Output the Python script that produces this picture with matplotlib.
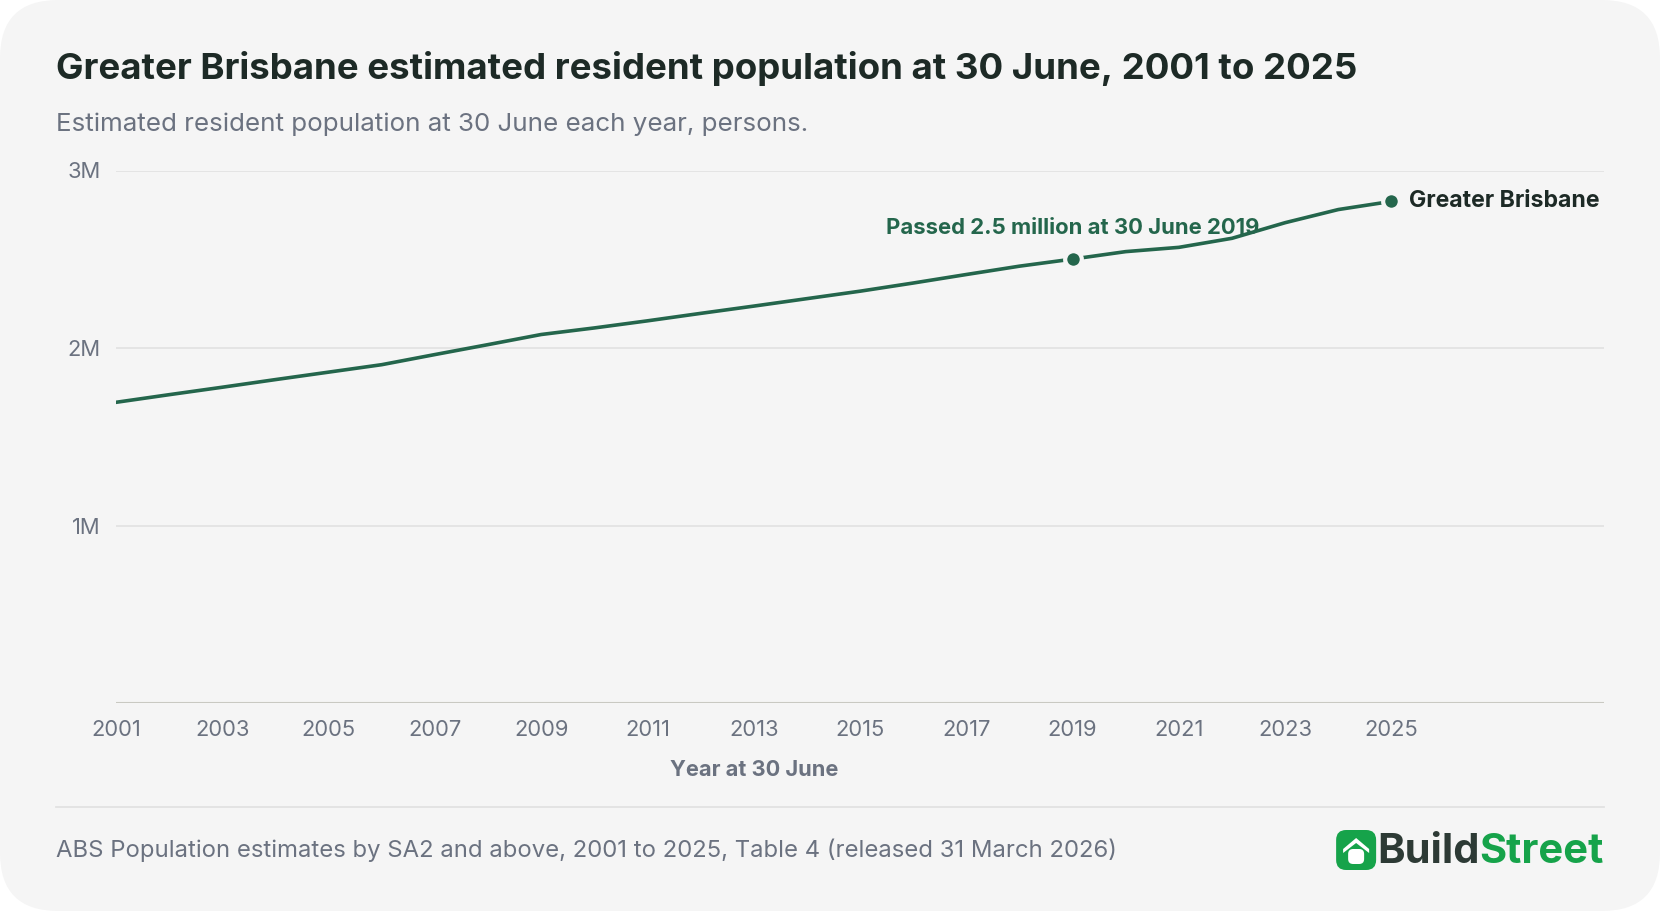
import matplotlib
matplotlib.use("Agg")
import matplotlib.pyplot as plt
from matplotlib.patches import FancyBboxPatch, Polygon
import numpy as np

plt.rcParams['font.family'] = ['Inter', 'DejaVu Sans']

# data (persons, millions)
years = list(range(2001, 2026))
population = [1.694, 1.737, 1.779, 1.822, 1.864, 1.906, 1.963, 2.019, 2.076, 2.113,
              2.153, 2.195, 2.236, 2.278, 2.320, 2.366, 2.414, 2.461, 2.501, 2.543,
              2.567, 2.618, 2.706, 2.780, 2.826]
highlight_years = [2019, 2025]
tick_years = list(range(2001, 2026, 2))
y_ticks = [1.0, 2.0, 3.0]
y_tick_labels = ["1M", "2M", "3M"]

title = "Greater Brisbane estimated resident population at 30 June, 2001 to 2025"
subtitle = "Estimated resident population at 30 June each year, persons."
source = "ABS Population estimates by SA2 and above, 2001 to 2025, Table 4 (released 31 March 2026)"

BG = "#f5f5f5"
LINE = "#24664c"
DARK = "#1d2a26"
GREY = "#6b7280"
GREEN = "#16a34a"

W, H = 1660, 911
fig = plt.figure(figsize=(W / 100, H / 100), dpi=100, facecolor="white")

# card background
card = FancyBboxPatch((0.0, 0.0), 1.0, 1.0, boxstyle="round,pad=0,rounding_size=0.035",
                      transform=fig.transFigure, facecolor=BG, edgecolor="none",
                      mutation_aspect=W / H, zorder=-10)
fig.patches.append(card)

ax = fig.add_axes([116 / W, 1 - 703 / H, (1604 - 116) / W, (703 - 170.5) / H])
ax.patch.set_alpha(0)

ax.set_xlim(2001, 2029)
ax.set_ylim(0, 3.0)

for v in y_ticks:
    ax.axhline(v, color="#e3e3e3", lw=1.3, zorder=1)
ax.axhline(0, color="#c9c9c2", lw=1.5, zorder=1)

ax.plot(years, population, color=LINE, lw=2.6, solid_capstyle="round", zorder=3)

hl_vals = [population[years.index(y)] for y in highlight_years]
ax.plot(highlight_years, hl_vals, "o", ms=12, color=LINE, mec=BG, mew=3, zorder=4)

for s in ax.spines.values():
    s.set_visible(False)

ax.set_yticks(y_ticks)
ax.set_yticklabels(y_tick_labels)
ax.set_xticks(tick_years)
ax.set_xticklabels([str(y) for y in tick_years])
ax.tick_params(axis="both", length=0, labelsize=15.8, labelcolor=GREY)
ax.tick_params(axis="y", pad=11)
ax.tick_params(axis="x", pad=12)

ax.text(2013, -0.375, "Year at 30 June", ha="center", va="center", fontsize=15.7,
        fontweight="bold", color=GREY)

ax.annotate("Passed 2.5 million at 30 June 2019", xy=(2019, population[years.index(2019)]),
            xytext=(0, 31), textcoords="offset pixels", ha="center", va="center",
            fontsize=15.9, fontweight="bold", color=LINE, zorder=5)
ax.annotate("Greater Brisbane", xy=(2025, population[-1]), xytext=(18, 0),
            textcoords="offset pixels", ha="left", va="center",
            fontsize=16.6, fontweight="bold", color=DARK, zorder=5)

fig.text(56 / W, 1 - 69 / H, title, ha="left", va="center", fontsize=26.4,
         fontweight="bold", color=DARK)
fig.text(56 / W, 1 - 124 / H, subtitle, ha="left", va="center", fontsize=18.7, color=GREY)

# footer
fig.add_artist(plt.Line2D([56 / W, 1604 / W], [1 - 807 / H, 1 - 807 / H],
                          color="#e2e2e2", lw=1.3, transform=fig.transFigure))
fig.text(56 / W, 1 - 850 / H, source, ha="left", va="center", fontsize=17.2, color=GREY)

street = fig.text(1604 / W, 1 - 852 / H, "Street", ha="right", va="center",
                  fontsize=30, fontweight="bold", color=GREEN)
build = fig.text(0, 0, "Build", ha="right", va="center", fontsize=30,
                 fontweight="bold", color="#2d3a35")
fig.canvas.draw()
sb = street.get_window_extent()
build.set_position((sb.x0 / W, 1 - 852 / H))
fig.canvas.draw()
bb = build.get_window_extent()

# logo icon: green rounded square with a white house
sz = 40
x1 = bb.x0 - 1
x0 = x1 - sz
yc = H - 850
y0 = yc - sz / 2
icon = FancyBboxPatch((x0 / W, y0 / H), sz / W, sz / H,
                      boxstyle="round,pad=0,rounding_size=0.006",
                      transform=fig.transFigure, facecolor=GREEN, edgecolor="none",
                      mutation_aspect=W / H)
fig.patches.append(icon)
cx = x0 + sz / 2
roof = Polygon([(cx - 13, y0 + 21), (cx, y0 + 32), (cx + 13, y0 + 21), (cx + 13, y0 + 17),
                (cx, y0 + 27), (cx - 13, y0 + 17)], closed=True,
               transform=None, facecolor="white", edgecolor="none")
body = FancyBboxPatch(((cx - 8) / W, (y0 + 6) / H), 16 / W, 15 / H,
                      boxstyle="round,pad=0,rounding_size=0.003",
                      transform=fig.transFigure, facecolor="white", edgecolor="none",
                      mutation_aspect=W / H)
fig.patches.append(body)
fig.patches.append(roof)

fig.savefig("out.png", dpi=100, facecolor=fig.get_facecolor())
